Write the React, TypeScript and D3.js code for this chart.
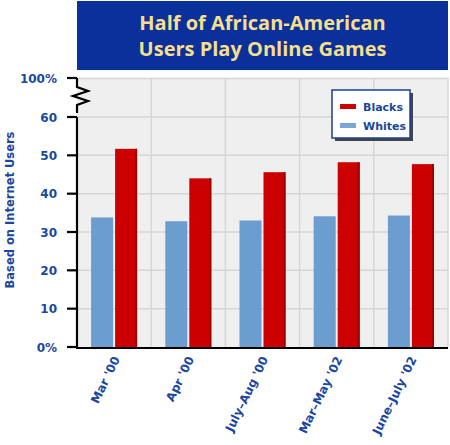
import React, { useEffect, useRef } from "react";
import * as d3 from "d3";

const categories = ["Mar '00", "Apr '00", "July–Aug '00", "Mar–May '02", "June–July '02"];
const whites = [33.8, 32.8, 33.0, 34.1, 34.3];
const blacks = [51.7, 44.0, 45.6, 48.2, 47.7];
const yTicks = [0, 10, 20, 30, 40, 50, 60];
const seriesNames = ["Blacks", "Whites"];

const titleLines = ["Half of African-American", "Users Play Online Games"];
const axisTitle = "Based on Internet Users";

function BarChart({ width = 450, height = 445 }) {
  const svgRef = useRef<SVGSVGElement>(null);

  useEffect(() => {
    const svg = d3.select(svgRef.current);
    svg.selectAll("*").remove();

    const left = 77;
    const right = 448;
    const top = 78;
    const breakY = 117;
    const bottom = 347;
    const navy = "#1a47a0";
    const font = "'DejaVu Sans', Verdana, sans-serif";

    // title box
    svg.append("rect").attr("x", left).attr("y", 1).attr("width", right - left).attr("height", 69).attr("fill", "#0a309c");
    svg
      .append("g")
      .selectAll("text")
      .data(titleLines)
      .join("text")
      .attr("x", (left + right) / 2)
      .attr("y", (d, i) => 30 + i * 26)
      .attr("text-anchor", "middle")
      .attr("fill", "#f6df8c")
      .style("font-family", "'Open Sans', sans-serif")
      .style("font-weight", 700)
      .style("font-size", "20px")
      .text((d) => d);

    const x = d3.scaleBand().domain(categories).range([left, right]);
    const y = d3.scaleLinear().domain([0, 60]).range([bottom, breakY]);

    // plot background
    svg.append("rect").attr("x", left).attr("y", top).attr("width", right - left).attr("height", bottom - top).attr("fill", "#efefef");

    // grid
    const grid = svg.append("g").attr("stroke", "#d6d6d6").attr("stroke-width", 1.5);
    grid
      .selectAll(".h")
      .data(yTicks.slice(1))
      .join("line")
      .attr("x1", left)
      .attr("x2", right)
      .attr("y1", (d) => y(d))
      .attr("y2", (d) => y(d));
    grid.append("line").attr("x1", left).attr("x2", right).attr("y1", top + 0.5).attr("y2", top + 0.5);
    grid
      .selectAll(".v")
      .data(categories)
      .join("line")
      .attr("x1", (d) => (x(d) as number) + x.bandwidth())
      .attr("x2", (d) => (x(d) as number) + x.bandwidth())
      .attr("y1", top)
      .attr("y2", bottom);

    // bars
    const barW = 22;
    const gap = 2;
    const bars = svg.append("g");
    categories.forEach((c, i) => {
      const cx = (x(c) as number) + x.bandwidth() / 2;
      bars
        .append("rect")
        .attr("x", cx - gap / 2 - barW)
        .attr("y", y(whites[i]))
        .attr("width", barW)
        .attr("height", bottom - y(whites[i]))
        .attr("fill", "#6b9dd1");
      bars
        .append("rect")
        .attr("x", cx + gap / 2)
        .attr("y", y(blacks[i]))
        .attr("width", barW)
        .attr("height", bottom - y(blacks[i]))
        .attr("fill", "#cc0000");
      bars
        .append("rect")
        .attr("x", cx + gap / 2 + barW - 2)
        .attr("y", y(blacks[i]))
        .attr("width", 2)
        .attr("height", bottom - y(blacks[i]))
        .attr("fill", "#9a0000");
    });

    // axes
    const axis = svg.append("g").attr("stroke", "#000").attr("stroke-width", 2.2).attr("fill", "none");
    axis.append("line").attr("x1", left).attr("x2", left).attr("y1", breakY).attr("y2", bottom + 1);
    axis.append("line").attr("x1", left - 1).attr("x2", right).attr("y1", bottom + 1).attr("y2", bottom + 1);
    axis
      .selectAll(".tick")
      .data(yTicks)
      .join("line")
      .attr("x1", left - 10)
      .attr("x2", left)
      .attr("y1", (d) => y(d))
      .attr("y2", (d) => y(d));
    axis.append("line").attr("x1", left - 10).attr("x2", left).attr("y1", top).attr("y2", top);
    axis
      .append("path")
      .attr("d", `M${left},${top}V87L88,91L73,96L88,101L${left},105V113`);

    // y tick labels
    const yLabels = yTicks.map((d) => ({ v: y(d), t: d === 0 ? "0%" : String(d) }));
    yLabels.push({ v: top, t: "100%" });
    svg
      .append("g")
      .selectAll("text")
      .data(yLabels)
      .join("text")
      .attr("x", 57)
      .attr("y", (d) => d.v + 4.5)
      .attr("text-anchor", "end")
      .attr("fill", navy)
      .style("font-family", font)
      .style("font-weight", 700)
      .style("font-size", "12px")
      .text((d) => d.t);

    // y axis title
    svg
      .append("text")
      .attr("transform", "translate(14,210) rotate(-90)")
      .attr("text-anchor", "middle")
      .attr("fill", navy)
      .style("font-family", font)
      .style("font-weight", 700)
      .style("font-size", "11.5px")
      .text(axisTitle);

    // x labels
    svg
      .append("g")
      .selectAll("text")
      .data(categories)
      .join("text")
      .attr("transform", (d) => `translate(${(x(d) as number) + x.bandwidth() / 2 + 6},${bottom + 12}) rotate(-64)`)
      .attr("text-anchor", "end")
      .attr("fill", navy)
      .style("font-family", font)
      .style("font-weight", 700)
      .style("font-size", "12px")
      .text((d) => d);

    // legend
    const lg = svg.append("g").attr("transform", "translate(332,90)");
    lg.append("rect").attr("x", 3).attr("y", 3).attr("width", 78).attr("height", 48).attr("fill", "#444");
    lg.append("rect").attr("x", 0).attr("y", 0).attr("width", 78).attr("height", 48).attr("fill", "#fff").attr("stroke", "#1a3f9a").attr("stroke-width", 1.5);
    const legendColors = ["#cc0000", "#7ea6d8"];
    seriesNames.forEach((s, i) => {
      lg.append("rect").attr("x", 8).attr("y", 14 + i * 19).attr("width", 16).attr("height", 5).attr("fill", legendColors[i]);
      lg.append("text")
        .attr("x", 31)
        .attr("y", 21 + i * 19)
        .attr("fill", navy)
        .style("font-family", font)
        .style("font-weight", 700)
        .style("font-size", "11px")
        .text(s);
    });
  }, []);

  return (
    <svg
      ref={svgRef}
      width={width}
      height={height}
      style={{ position: "absolute", left: 0, top: 0, display: "block" }}
    ></svg>
  );
}

export default function App() {
  return <BarChart />;
}
